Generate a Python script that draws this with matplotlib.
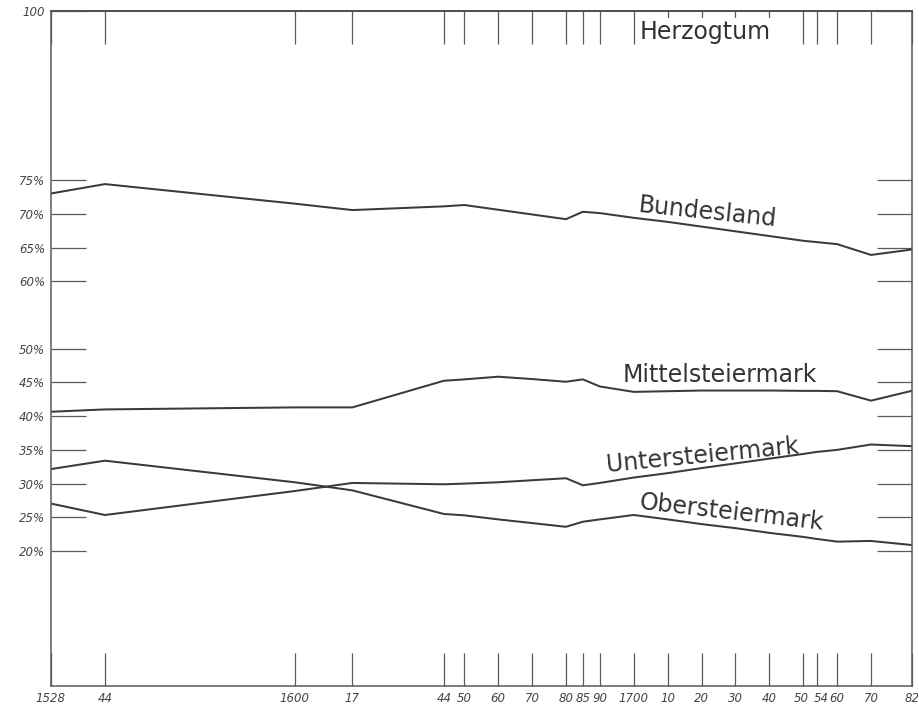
import matplotlib
matplotlib.use("Agg")
import matplotlib.pyplot as plt
from matplotlib.transforms import ScaledTranslation

# ---- data ----
years = [1528, 1544, 1600, 1617, 1644, 1650, 1660, 1670, 1680, 1685, 1690,
         1700, 1710, 1720, 1730, 1740, 1750, 1754, 1760, 1770, 1782]
year_labels = ["1528", "44", "1600", "17", "44", "50", "60", "70", "80", "85", "90",
               "1700", "10", "20", "30", "40", "50", "54", "60", "70", "82"]

herzogtum = [100.0, 100.0, 100.0, 100.0, 100.0, 100.0, 100.0, 100.0, 100.0, 100.0, 100.0,
             100.0, 100.0, 100.0, 100.0, 100.0, 100.0, 100.0, 100.0, 100.0, 100.0]
bundesland = [73.0, 74.4, 71.5, 70.55, 71.1, 71.3, 70.6, 69.9, 69.2, 70.3, 70.1,
              69.4, 68.8, 68.1, 67.4, 66.7, 66.0, 65.8, 65.5, 63.9, 64.7]
mittelsteiermark = [40.65, 41.0, 41.3, 41.3, 45.25, 45.45, 45.85, 45.5, 45.1, 45.45, 44.4,
                    43.6, 43.7, 43.8, 43.8, 43.8, 43.75, 43.75, 43.7, 42.3, 43.75]
untersteiermark = [27.05, 25.35, 28.9, 30.1, 29.9, 30.0, 30.2, 30.5, 30.8, 29.75, 30.1,
                   30.9, 31.55, 32.3, 33.0, 33.7, 34.4, 34.7, 35.0, 35.8, 35.55]
obersteiermark = [32.15, 33.4, 30.2, 29.0, 25.5, 25.3, 24.7, 24.15, 23.6, 24.35, 24.7,
                  25.35, 24.7, 24.0, 23.4, 22.7, 22.1, 21.8, 21.4, 21.5, 20.9]

pct_ticks = [20, 25, 30, 35, 40, 45, 50, 60, 65, 70, 75, 100]
pct_labels = ["20%", "25%", "30%", "35%", "40%", "45%", "50%", "60%", "65%", "70%", "75%", "100"]

# ---- series labels: (text, x-year, y-value, rotation, ha, va) ----
series_labels = [
    ("Herzogtum", 1701.6, 95.9, 0, "left", "baseline"),
    ("Bundesland", 1721.8, 70.2, -6.0, "center", "center"),
    ("Mittelsteiermark", 1725.4, 45.05, 0, "center", "baseline"),
    ("Untersteiermark", 1720.4, 34.1, 5.6, "center", "center"),
    ("Obersteiermark", 1728.8, 25.7, -6.5, "center", "center"),
]

ink = "#3a3a3a"
frame = "#5a5a5a"

fig = plt.figure(figsize=(9.2, 7.05), dpi=100)
ax = fig.add_axes([50.7 / 920, 1 - 686 / 705, (911.7 - 50.7) / 920, (686 - 11.4) / 705])

lw = 1.45
ax.plot(years, herzogtum, color=ink, lw=lw, clip_on=False, zorder=2)
ax.plot(years, bundesland, color=ink, lw=lw, zorder=2)
ax.plot(years, mittelsteiermark, color=ink, lw=lw, zorder=2)
ax.plot(years, untersteiermark, color=ink, lw=lw, zorder=2)
ax.plot(years, obersteiermark, color=ink, lw=lw, zorder=2)

ax.set_xlim(1528, 1782)
ax.set_ylim(0, 100)

for s in ax.spines.values():
    s.set_color(frame)
    s.set_linewidth(1.1)

ax.set_xticks(years)
ax.set_xticklabels(year_labels, fontsize=8.5, style="italic", color="#444444")
ax.tick_params(axis="x", which="major", direction="in", length=23.5, width=0.9,
               color=frame, top=True, bottom=True, pad=4)

# nudge the crowded "50 54" labels apart a little, as in the reference
xlabels = ax.get_xticklabels()
xlabels[16].set_transform(xlabels[16].get_transform() + ScaledTranslation(-2 / 100, 0, fig.dpi_scale_trans))
xlabels[17].set_transform(xlabels[17].get_transform() + ScaledTranslation(4 / 100, 0, fig.dpi_scale_trans))

ax.set_yticks(pct_ticks)
ax.set_yticklabels(pct_labels, fontsize=8.5, style="italic", color="#444444")
ax.tick_params(axis="y", which="major", direction="in", length=25, width=0.9,
               color=frame, left=True, right=True, labelright=False, pad=4)

for text, xv, yv, rot, ha, va in series_labels:
    kw = {}
    if text == "Herzogtum":
        kw["bbox"] = dict(boxstyle="square,pad=0.1", facecolor="white", edgecolor="none")
    ax.text(xv, yv, text, fontsize=17, color="#333333", rotation=rot,
            rotation_mode="anchor", ha=ha, va=va, zorder=5, **kw)

fig.savefig("out.png", dpi=100, facecolor="white")
